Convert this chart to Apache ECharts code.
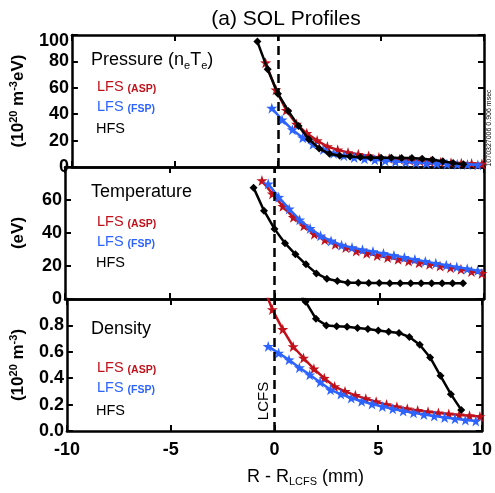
<!DOCTYPE html>
<html><head><meta charset="utf-8">
<script src="https://cdn.jsdelivr.net/npm/echarts@6/dist/echarts.min.js"></script>
<style>html,body{margin:0;padding:0;background:#fff}#c{width:495px;height:493px}</style>
</head><body><div id="c"></div>
<script>
// ---------- data ----------
const xHFS = [-1.0,-0.5,0,0.5,1.0,1.5,2.0,2.5,3.0,3.5,4.0,4.5,5.0,5.5,6.0,6.5,7.0,7.5,8.0,8.5,9.0];
const pressureHFS = [95,74,55.5,42.5,31,21,14,10,8.6,8.0,7.4,7.1,7.0,7.0,6.9,6.8,6.3,5.5,4.3,3.1,2.0];
const temperatureHFS = [67.5,53.5,42.5,33.8,27.1,21,15.5,12.3,10.9,9.9,9.8,9.7,9.7,9.6,9.6,9.6,9.6,9.6,9.6,9.6,9.5];
const densityHFS = [1.40,1.37,1.30,1.20,1.09,0.98,0.85,0.80,0.793,0.789,0.781,0.772,0.762,0.752,0.743,0.712,0.654,0.557,0.418,0.279,0.16];

const xASP = [-0.6,-0.1,0.4,0.9,1.4,1.9,2.4,2.9,3.4,3.9,4.4,4.9,5.4,5.9,6.4,6.9,7.4,7.9,8.4,8.9,9.4,9.9];
const pressureASP = [79,58.5,43,32.5,25.5,20,15.5,13,11,9.6,8.4,7.3,6.5,5.8,5.1,4.5,4.0,3.6,3.2,2.9,2.6,2.3];
const temperatureASP = [71.8,63.7,56.2,49.5,44.4,39.3,35.9,33.2,31.2,29.1,27.7,26.4,25.2,24.1,23.0,22.0,21.0,20.0,19.0,18.0,16.6,15.5];
const densityASP = [1.12,0.92,0.77,0.64,0.553,0.471,0.40,0.337,0.30,0.27,0.245,0.222,0.2,0.183,0.168,0.156,0.146,0.137,0.129,0.122,0.116,0.11];

const xFSP = [-0.3,0.2,0.7,1.2,1.7,2.2,2.7,3.2,3.7,4.2,4.7,5.2,5.7,6.2,6.7,7.2,7.7,8.2,8.7,9.2,9.7];
const pressureFSP = [44.6,35.8,28.3,22.2,17.2,13.2,10.4,8.6,7.2,6.2,5.4,4.8,4.2,3.7,3.3,2.9,2.6,2.3,2.0,1.8,1.6];
const temperatureFSP = [69.8,61.7,54.6,48,42.8,38.3,35.2,32.6,31.2,29.8,28.8,27.6,26.4,25.2,24.0,22.8,21.6,20.5,19.4,18.3,17.2];
const densityFSP = [0.641,0.59,0.54,0.48,0.426,0.37,0.312,0.28,0.25,0.225,0.205,0.186,0.168,0.152,0.138,0.125,0.113,0.102,0.092,0.083,0.075];

const xTicks = [-10,-5,0,5,10];
const yMax = [100, 80, 1.0];
const yInterval = [20, 20, 0.2];
const lcfsX = 0;

// ---------- styling ----------
const FONT = '"Liberation Sans", Arial, sans-serif';
const RED = '#c0111b', BLUE = '#2d64ff', BLACK = '#000';
const STAR = 'path://M50 0L61.8 35.1L98.9 35.5L69.1 57.6L80.2 93L50 71.5L19.8 93L30.9 57.6L1.1 35.5L38.2 35.1Z';

const grids = [
  {left:65, right:11, top:35, height:132},
  {left:65, right:11, top:167, height:132},
  {left:65, right:11, top:299, height:132}
];

const tick = {show:true, inside:true, length:6, lineStyle:{color:'#000', width:2}};
const aLine = {show:true, onZero:false, lineStyle:{color:'#000', width:2.5}};

const xAxis = [], yAxis = [];
for (let g = 0; g < 3; g++) {
  const isBottom = g === 2;
  xAxis.push({type:'value', gridIndex:g, position:'bottom', min:-10, max:10, interval:5,
    axisLine:aLine, axisTick:tick, splitLine:{show:false},
    axisLabel:{show:isBottom, color:'#000', fontFamily:FONT, fontWeight:'bold', fontSize:18, margin:10,
      customValues: xTicks, formatter: v => String(v)},
    name: isBottom ? 'R - R{s|LCFS} (mm)' : '', nameLocation:'middle', nameGap:36,
    nameTextStyle:{color:'#000', fontFamily:FONT, fontSize:18, lineHeight:20, padding:[0,0,0,62],
      rich:{s:{fontFamily:FONT, fontSize:11, lineHeight:12, verticalAlign:'bottom', color:'#000'}}}
  });
  xAxis.push({type:'value', gridIndex:g, position:'top', min:-10, max:10, interval:5,
    axisLine:aLine, axisTick:tick, splitLine:{show:false}, axisLabel:{show:false}});
}
const yNames = ['(10{s|20} m{s|-3}eV)', '(eV)', '(10{s|20} m{s|-3})'];
for (let g = 0; g < 3; g++) {
  const mx = yMax[g];
  yAxis.push({type:'value', gridIndex:g, position:'left', min:0, max:mx, interval:yInterval[g],
    axisLine:aLine, axisTick:tick, splitLine:{show:false},
    axisLabel:{color:'#000', fontFamily:FONT, fontWeight:'bold', fontSize:18, margin:3,
      formatter: v => {
        if (g > 0 && Math.abs(v - mx) < 1e-9) return '';
        if (g === 0 && v === mx) return '{t|' + v + '}';
        return g === 2 ? v.toFixed(1) : String(v);
      },
      rich:{t:{fontFamily:FONT, fontWeight:'bold', fontSize:18, color:'#000', padding:[12,0,0,0]}}},
    name: yNames[g], nameLocation:'middle', nameRotate:90, nameGap:37,
    nameTextStyle:{color:'#000', fontFamily:FONT, fontWeight:'bold', fontSize:17, lineHeight:20,
      rich:{s:{fontFamily:FONT, fontWeight:'bold', fontSize:11, lineHeight:11, verticalAlign:'top', color:'#000'}}}
  });
  yAxis.push({type:'value', gridIndex:g, position:'right', min:0, max:mx, interval:yInterval[g],
    axisLine:aLine, axisTick:tick, splitLine:{show:false}, axisLabel:{show:false}});
}

function mk(xs, ys, g, color, symbol, size, z) {
  return {type:'line', xAxisIndex:2*g, yAxisIndex:2*g, data: xs.map((x,i)=>[x, ys[i]]),
    symbol, symbolSize:size, showAllSymbol:true, clip:true, z,
    lineStyle:{color, width:2.5}, itemStyle:{color, borderWidth:0}, animation:false};
}
const series = [];
const sets = [[pressureASP, temperatureASP, densityASP],[pressureFSP, temperatureFSP, densityFSP],[pressureHFS, temperatureHFS, densityHFS]];
for (let g = 0; g < 3; g++) {
  series.push(mk(xASP, sets[0][g], g, RED, STAR, 11, 2));
  series.push(mk(xFSP, sets[1][g], g, BLUE, STAR, 11, 3));
  const s = mk(xHFS, sets[2][g], g, BLACK, 'diamond', 8, 4);
  s.markLine = {silent:true, symbol:'none', animation:false, label:{show:false},
    lineStyle:{color:'#000', width:2.5, type:[9,5]}, data:[{xAxis:lcfsX}]};
  series.push(s);
}

function txt(x, y, text, fill, font, rich) {
  return {type:'text', x, y, silent:true, z:100,
    style:{text, fill, font: font + ' ' + FONT, verticalAlign:'middle', align:'left', rich}};
}
const subE = {e:{font:'normal 11px ' + FONT, fill:'#000', lineHeight:12, verticalAlign:'bottom'}};
function lfs(x, y, tag, color) {
  return txt(x, y, 'LFS {t|(' + tag + ')}', color, 'normal 14.5px',
    {t:{font:'bold 10.5px ' + FONT, fill:color, lineHeight:12, verticalAlign:'bottom'}});
}
const headY = [[60,87,107,129],[192,222,242,263],[329,368,388,411]];
const heads = ['Pressure (n{e|e}T{e|e})', 'Temperature', 'Density'];
const graphic = [];
for (let g = 0; g < 3; g++) {
  const hy = headY[g];
  const h = txt(91, hy[0], heads[g], '#000', 'normal 18px', subE);
  h.style.lineHeight = 22;
  graphic.push(h);
  graphic.push(lfs(97, hy[1], 'ASP', RED));
  graphic.push(lfs(97, hy[2], 'FSP', BLUE));
  graphic.push(txt(96, hy[3], 'HFS', '#000', 'normal 14.5px'));
}
graphic.push({type:'text', x:264, y:401, rotation:Math.PI/2, silent:true, z:100,
  style:{text:'LCFS', fill:'#000', font:'normal 15px ' + FONT, align:'center', verticalAlign:'middle'}});
graphic.push({type:'text', x:489, y:128, rotation:Math.PI/2, silent:true, z:100,
  style:{text:'1070327006 0.906 msec', fill:'#000', font:'normal 7px ' + FONT, align:'center', verticalAlign:'middle'}});

const chart = echarts.init(document.getElementById('c'), null, {renderer:'canvas'});
chart.setOption({
  animation:false,
  backgroundColor:'#fff',
  title:{text:'(a) SOL Profiles', left:281, top:4, textAlign:'center',
    textStyle:{color:'#000', fontFamily:FONT, fontWeight:'normal', fontSize:21}},
  grid: grids, xAxis, yAxis, series, graphic
});
</script></body></html>
